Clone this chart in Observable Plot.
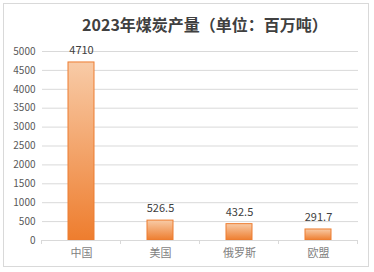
<!DOCTYPE html>
<html><head><meta charset="utf-8">
<script src="https://cdn.jsdelivr.net/npm/d3@7"></script>
<script src="https://cdn.jsdelivr.net/npm/@observablehq/plot@0.6"></script>
<style>
body{margin:0;background:#fff;font-family:"Noto Sans CJK SC","Noto Sans",sans-serif;}
#wrap{position:relative;width:374px;height:272px;overflow:hidden;}
#frame{position:absolute;left:3px;top:3px;width:366px;height:264px;border:1px solid #d9d9d9;box-sizing:border-box;}
#title{position:absolute;top:13px;left:0;width:410px;text-align:center;font-size:16px;font-weight:bold;color:#404040;line-height:22px;}
#chart{position:absolute;top:40px;left:0;}
</style></head>
<body><div id="wrap"><div id="frame"></div><div id="title">2023年煤炭产量（单位：百万吨）</div><div id="chart"></div></div>
<script>
const categories = ["中国","美国","俄罗斯","欧盟"];
const values = [4710, 526.5, 432.5, 291.7];
const labels = ["4710","526.5","432.5","291.7"];
const yTicks = [0,500,1000,1500,2000,2500,3000,3500,4000,4500,5000];

const data = categories.map((c,i)=>({cat:c, v:values[i], label:labels[i]}));

const plot = Plot.plot({
  width: 374, height: 232,
  marginTop: 11, marginBottom: 32, marginLeft: 42, marginRight: 16,
  style: {fontFamily: "'Noto Sans CJK SC','Noto Sans',sans-serif", background: "transparent"},
  x: {domain: categories, paddingInner: 0.67, paddingOuter: 0.335, label: null},
  y: {domain: [0,5000], label: null},
  marks: [
    Plot.gridY(yTicks, {stroke: "#d9d9d9", strokeOpacity: 1}),
    Plot.axisY(yTicks, {tickSize: 0, tickPadding: 7, fontSize: 10, fill: "#595959", label: null, tickFormat: d => String(d)}),
    Plot.barY(data, {x: "cat", y: "v", fill: "url(#barGrad)", stroke: "#ed7d31", strokeWidth: 1, style: "filter: drop-shadow(1px 1px 1.5px rgba(0,0,0,0.25))"}),
    Plot.ruleY([0], {stroke: "#d9d9d9"}),
    Plot.axisX({tickSize: 0, tickPadding: 9, fontSize: 11, fill: "#7f7f7f", label: null}),
    Plot.text(data, {x: "cat", y: "v", text: "label", dy: -12, fontSize: 11, fill: "#404040"})
  ]
});

const svg = d3.select(plot);
const defs = svg.insert("defs", ":first-child");
const g = defs.append("linearGradient").attr("id","barGrad").attr("x1",0).attr("y1",0).attr("x2",0).attr("y2",1);
g.append("stop").attr("offset","0%").attr("stop-color","#f8cba7");
g.append("stop").attr("offset","100%").attr("stop-color","#ee7d2e");

// band-boundary tick marks on the category axis
const xs = plot.scale("x");
const ys = plot.scale("y");
const y0 = ys.apply(0);
const step = xs.step;
const half = (step - xs.bandwidth) / 2;
const bounds = categories.map(c => xs.apply(c) - half);
bounds.push(xs.apply(categories[categories.length-1]) + xs.bandwidth + half);
svg.append("g").selectAll("line").data(bounds).join("line")
  .attr("x1",d=>d).attr("x2",d=>d).attr("y1",y0).attr("y2",y0+4)
  .attr("stroke","#d9d9d9");

document.getElementById("chart").appendChild(plot);
</script></body></html>
